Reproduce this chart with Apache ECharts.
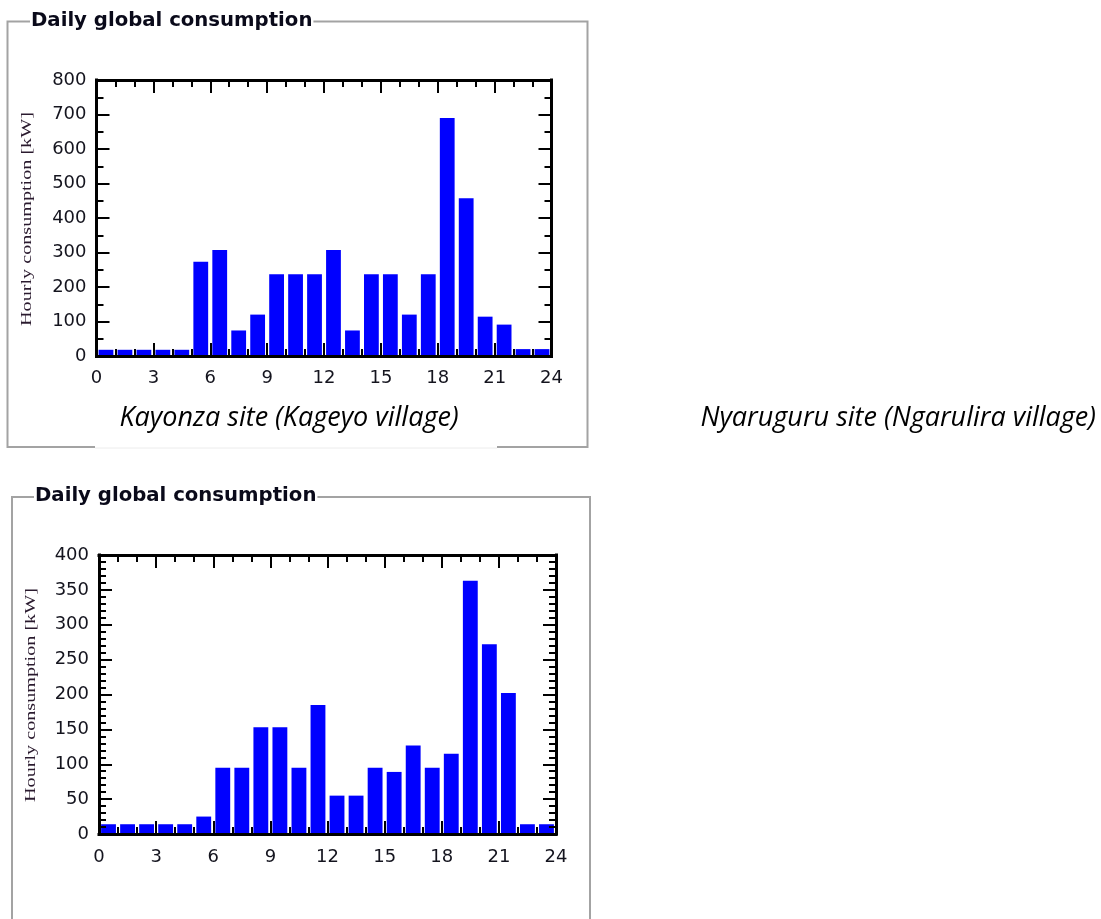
<!DOCTYPE html>
<html>
<head>
<meta charset="utf-8">
<title>Daily global consumption</title>
<script src="https://cdn.jsdelivr.net/npm/echarts@6/dist/echarts.min.js"></script>
<style>
  html, body { margin: 0; padding: 0; background: #ffffff; }
  #chart { width: 1101px; height: 919px; }
</style>
</head>
<body>
<div id="chart"></div>
<script>
// Hour of day at which each hourly bar starts
const hours = [0, 1, 2, 3, 4, 5, 6, 7, 8, 9, 10, 11, 12, 13, 14, 15, 16, 17, 18, 19, 20, 21, 22, 23];

// Hourly consumption [kW], Kayonza site (Kageyo village)
const kayonzaLoad = [18, 18, 18, 18, 18, 273, 307, 74, 120, 237, 237, 237, 307, 74, 237, 237, 120, 237, 690, 457, 114, 91, 20, 20];

// Hourly consumption [kW], Nyaruguru site (Ngarulira village)
const nyaruguruLoad = [14, 14, 14, 14, 14, 25, 95, 95, 153, 153, 95, 185, 55, 55, 95, 89, 127, 95, 115, 363, 272, 202, 14, 14];

// Text
const panelTitle = 'Daily global consumption';
const yAxisTitle = 'Hourly consumption [kW]';
const siteNames = ['Kayonza site (Kageyo village)', 'Nyaruguru site (Ngarulira village)'];

// Axis ranges
const hourRange = { min: 0, max: 24, step: 3, minorSplit: 3 };
const kayonzaRange = { min: 0, max: 800, step: 100, minorSplit: 2 };
const nyaruguruRange = { min: 0, max: 400, step: 50, minorSplit: 5 };

const labelFont = { fontFamily: 'DejaVu Sans', fontSize: 18, color: '#14141e' };
const frameLine = { color: '#000000', width: 3, cap: 'square' };
const tickLine = { color: '#000000', width: 2 };

function frameAxis(gridIndex, position, range, showLabels, margin) {
  return {
    type: 'value',
    gridIndex: gridIndex,
    position: position,
    min: range.min,
    max: range.max,
    interval: range.step,
    z: 5,
    axisLine: { show: true, onZero: false, lineStyle: frameLine },
    axisTick: { show: true, inside: true, length: 13, lineStyle: tickLine },
    minorTick: { show: true, splitNumber: range.minorSplit, length: 7, lineStyle: tickLine },
    splitLine: { show: false },
    minorSplitLine: { show: false },
    axisLabel: Object.assign({ show: showLabels, margin: margin }, labelFont)
  };
}

function barSeries(axisIndex, values) {
  return {
    type: 'bar',
    xAxisIndex: axisIndex,
    yAxisIndex: axisIndex,
    data: hours.map(function (h, i) { return [h + 0.5, values[i]]; }),
    barWidth: '78%',
    itemStyle: { color: '#0000ff' },
    silent: true,
    animation: false
  };
}

const boxColor = '#a3a3a3';

function panelTitleText(x, y) {
  return {
    type: 'text',
    x: x, y: y,
    style: {
      text: panelTitle,
      font: 'bold 19.7px "DejaVu Sans"',
      fill: '#0a0a1a',
      verticalAlign: 'middle',
      align: 'left',
      backgroundColor: '#ffffff',
      padding: [0, 1]
    },
    z: 10
  };
}

function yTitleText(x, y) {
  return {
    type: 'text',
    x: x, y: y,
    rotation: Math.PI / 2,
    scaleX: 1.44,
    style: {
      text: yAxisTitle,
      font: '14px "Liberation Serif"',
      fill: '#2a1a2e',
      align: 'center',
      verticalAlign: 'middle'
    },
    z: 10
  };
}

function captionText(x, align, text) {
  return {
    type: 'text',
    x: x, y: 418,
    style: {
      text: text,
      font: 'italic 27px "Open Sans"',
      fill: '#000000',
      align: align,
      verticalAlign: 'middle'
    },
    z: 10
  };
}

const chart = echarts.init(document.getElementById('chart'), null, { renderer: 'canvas' });

chart.setOption({
  backgroundColor: '#ffffff',
  animation: false,
  grid: [
    { left: 96.5, top: 80, width: 455, height: 276 },
    { left: 99, top: 555, width: 457, height: 279 }
  ],
  xAxis: [
    frameAxis(0, 'bottom', hourRange, true, 13),
    frameAxis(1, 'bottom', hourRange, true, 14),
    frameAxis(0, 'top', hourRange, false, 8),
    frameAxis(1, 'top', hourRange, false, 8)
  ],
  yAxis: [
    frameAxis(0, 'left', kayonzaRange, true, 10),
    frameAxis(1, 'left', nyaruguruRange, true, 10),
    frameAxis(0, 'right', kayonzaRange, false, 8),
    frameAxis(1, 'right', nyaruguruRange, false, 8)
  ],
  series: [
    barSeries(0, kayonzaLoad),
    barSeries(1, nyaruguruLoad)
  ],
  graphic: [
    // Upper group box, with an opening in the bottom edge below the caption
    {
      type: 'polyline',
      shape: { points: [[95, 447], [7.5, 447], [7.5, 21.5], [587.5, 21.5], [587.5, 447], [497, 447]] },
      style: { stroke: boxColor, lineWidth: 2, fill: null },
      z: 1
    },
    {
      type: 'line',
      shape: { x1: 95, y1: 448, x2: 497, y2: 448 },
      style: { stroke: '#ececec', lineWidth: 1 },
      z: 1
    },
    panelTitleText(30, 21),
    yTitleText(27, 219),
    // Lower group box, running past the bottom of the page
    {
      type: 'polyline',
      shape: { points: [[12, 930], [12, 497], [590, 497], [590, 930]] },
      style: { stroke: boxColor, lineWidth: 2, fill: null },
      z: 1
    },
    panelTitleText(34, 496),
    yTitleText(31, 695),
    // Site captions
    captionText(289, 'center', siteNames[0]),
    captionText(1096, 'right', siteNames[1])
  ]
});
</script>
</body>
</html>
